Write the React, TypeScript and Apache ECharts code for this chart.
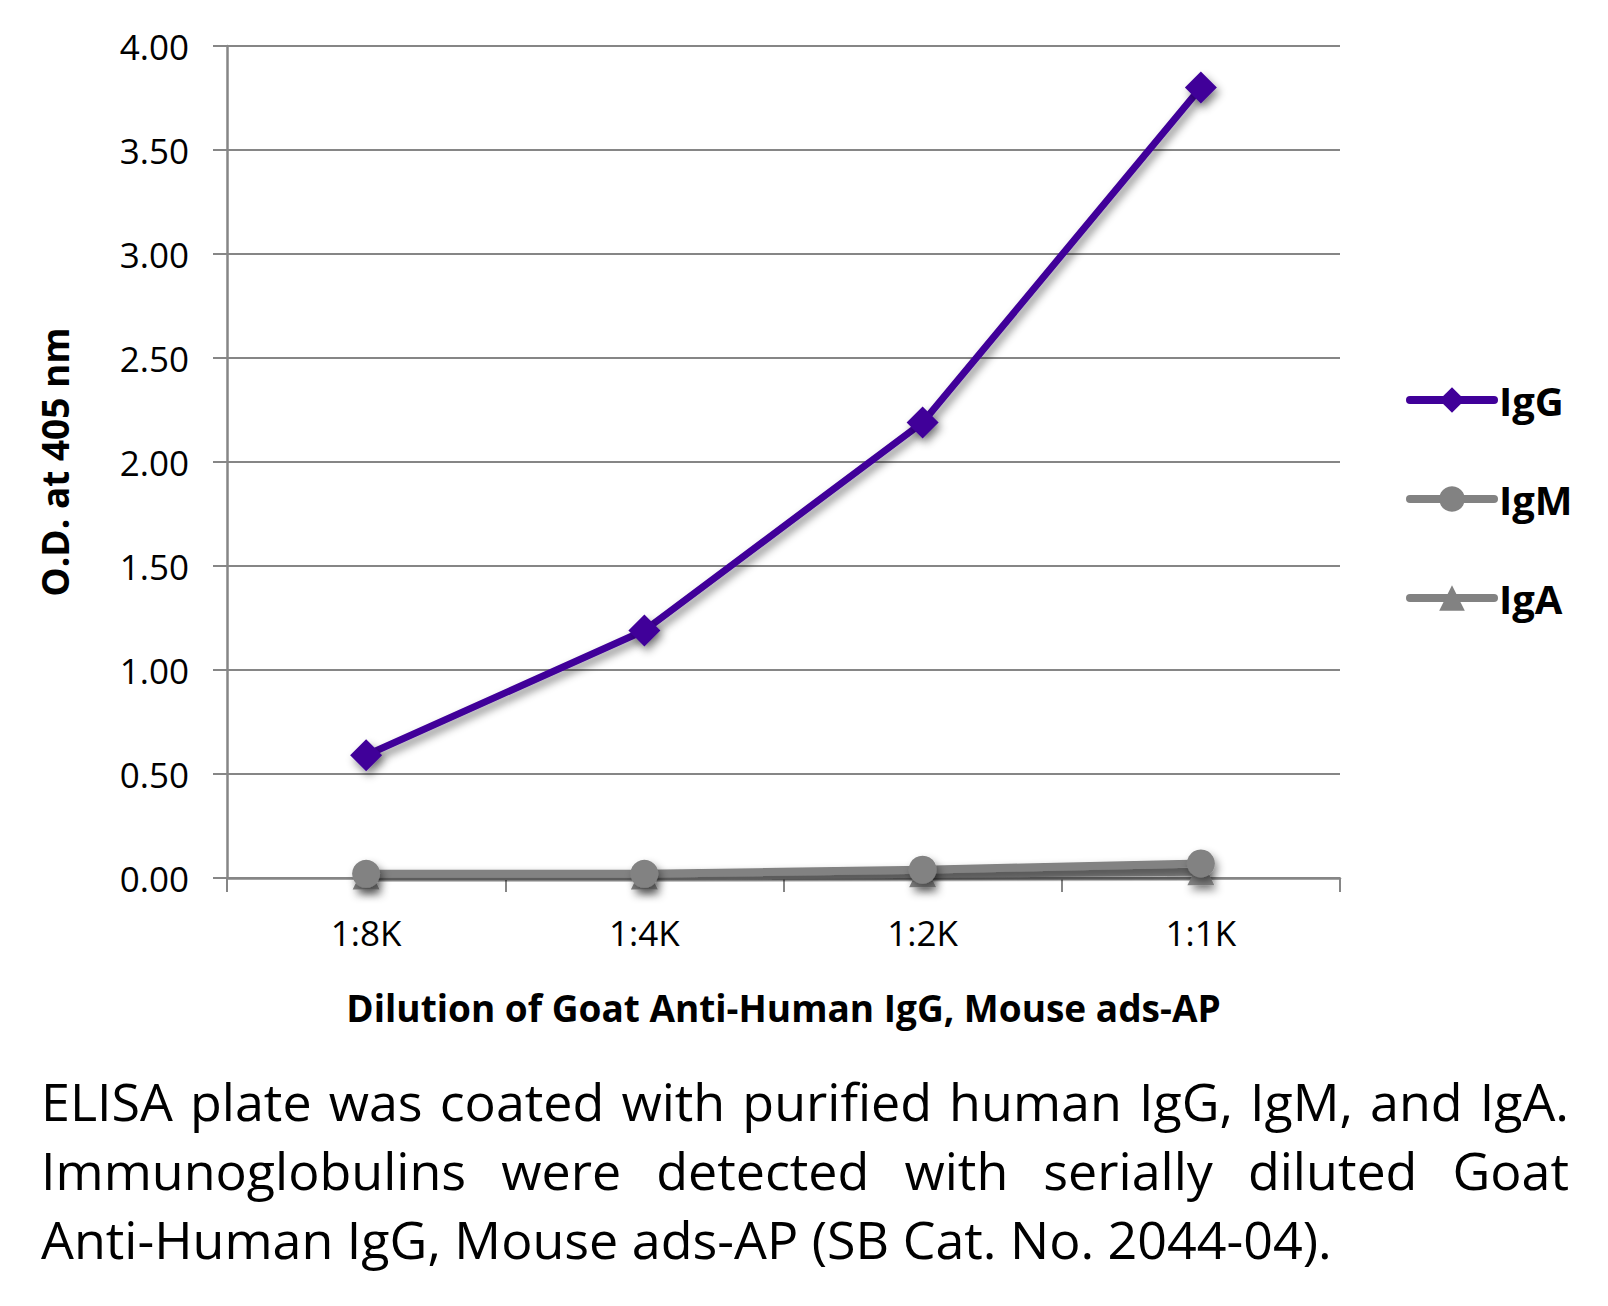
import React, { useEffect, useRef } from "react";
import * as echarts from "echarts";

const categories = ["1:8K", "1:4K", "1:2K", "1:1K"];
const igGValues = [0.59, 1.19, 2.19, 3.8];
const igMValues = [0.02, 0.02, 0.04, 0.07];
const igAValues = [0.01, 0.01, 0.02, 0.03];
const seriesNames = ["IgG", "IgM", "IgA"];
const yMin = 0;
const yMax = 4;
const yInterval = 0.5;
const xTitle = "Dilution of Goat Anti-Human IgG, Mouse ads-AP";
const yTitle = "O.D. at 405 nm";
const captionLine1Words = ["ELISA", "plate", "was", "coated", "with", "purified", "human", "IgG,", "IgM,", "and", "IgA."];
const captionLine2Words = ["Immunoglobulins", "were", "detected", "with", "serially", "diluted", "Goat"];
const captionLine3 = "Anti-Human IgG, Mouse ads-AP (SB Cat. No. 2044-04).";

const FONT = "'Open Sans', 'Noto Sans', sans-serif";
const PURPLE = "#400099";
const GRAY = "#828282";

function justifiedWords(words: string[], font: string, left: number, right: number, y: number) {
  const ctx = document.createElement("canvas").getContext("2d")!;
  ctx.font = font;
  const widths = words.map((w) => ctx.measureText(w).width);
  const total = widths.reduce((a, b) => a + b, 0);
  const gap = (right - left - total) / (words.length - 1);
  let x = left;
  return words.map((w, i) => {
    const el = {
      type: "text",
      x,
      y,
      style: { text: w, font, fill: "#000", align: "left", verticalAlign: "middle" },
    };
    x += widths[i] + gap;
    return el;
  });
}

export default function App() {
  const ref = useRef<HTMLDivElement>(null);
  useEffect(() => {
    document.body.style.margin = "0";
    const chart = echarts.init(ref.current!, undefined, { renderer: "svg" });
    const shadow = {
      shadowColor: "rgba(0,0,0,0.45)",
      shadowBlur: 8,
      shadowOffsetX: 3,
      shadowOffsetY: 5,
    };
    const captionFont = `52px ${FONT}`;
    const graphic: any[] = [
      ...justifiedWords(captionLine1Words, captionFont, 41, 1569, 1100),
      ...justifiedWords(captionLine2Words, captionFont, 41, 1569, 1169),
      {
        type: "text",
        x: 41,
        y: 1238,
        style: { text: captionLine3, font: captionFont, fill: "#000", verticalAlign: "middle" },
      },
    ];

    chart.setOption({
      animation: false,
      backgroundColor: "#fff",
      grid: { left: 227, right: 268, top: 46, bottom: 428, containLabel: false },
      legend: {
        orient: "vertical",
        left: 1401,
        top: 375,
        itemWidth: 84,
        itemHeight: 32,
        itemGap: 59,
        data: seriesNames,
        textStyle: { fontFamily: FONT, fontWeight: "bold", fontSize: 40, color: "#000", padding: [0, 0, 0, 0] },
        lineStyle: { shadowBlur: 0, shadowOffsetX: 0, shadowOffsetY: 0, shadowColor: "transparent", width: 8, cap: "round" },
        itemStyle: { shadowBlur: 0, shadowOffsetX: 0, shadowOffsetY: 0, shadowColor: "transparent" },
      },
      xAxis: {
        type: "category",
        data: categories,
        boundaryGap: true,
        name: xTitle,
        nameLocation: "middle",
        nameGap: 111,
        nameTextStyle: { fontFamily: FONT, fontWeight: "bold", fontSize: 37, color: "#000" },
        axisLine: { show: true, lineStyle: { color: "#868686", width: 2.5 } },
        axisTick: { show: true, length: 14, lineStyle: { color: "#868686", width: 2 } },
        axisLabel: { fontFamily: FONT, fontSize: 35, color: "#000", margin: 37 },
        splitLine: { show: false },
      },
      yAxis: {
        type: "value",
        min: yMin,
        max: yMax,
        interval: yInterval,
        name: yTitle,
        nameLocation: "middle",
        nameGap: 154,
        nameTextStyle: { fontFamily: FONT, fontWeight: "bold", fontSize: 37, color: "#000" },
        axisLine: { show: true, lineStyle: { color: "#868686", width: 2.5 } },
        axisTick: { show: true, length: 14, lineStyle: { color: "#868686", width: 2 } },
        axisLabel: {
          fontFamily: FONT,
          fontSize: 35,
          color: "#000",
          margin: 38,
          formatter: (v: number) => v.toFixed(2),
        },
        splitLine: { show: true, lineStyle: { color: "#868686", width: 2 } },
      },
      graphic,
      series: [
        {
          name: "IgA",
          type: "line",
          data: igAValues,
          symbol: "triangle",
          symbolSize: 27,
          lineStyle: { color: GRAY, width: 8, ...shadow },
          itemStyle: { color: GRAY, ...shadow },
          z: 3,
        },
        {
          name: "IgM",
          type: "line",
          data: igMValues,
          symbol: "circle",
          symbolSize: 28,
          lineStyle: { color: GRAY, width: 8, ...shadow },
          itemStyle: { color: GRAY, ...shadow },
          z: 4,
        },
        {
          name: "IgG",
          type: "line",
          data: igGValues,
          symbol: "diamond",
          symbolSize: 32,
          lineStyle: { color: PURPLE, width: 7, ...shadow },
          itemStyle: { color: PURPLE, ...shadow },
          z: 5,
        },
      ],
    });
    return () => chart.dispose();
  }, []);
  return <div ref={ref} style={{ width: 1608, height: 1306 }} />;
}
